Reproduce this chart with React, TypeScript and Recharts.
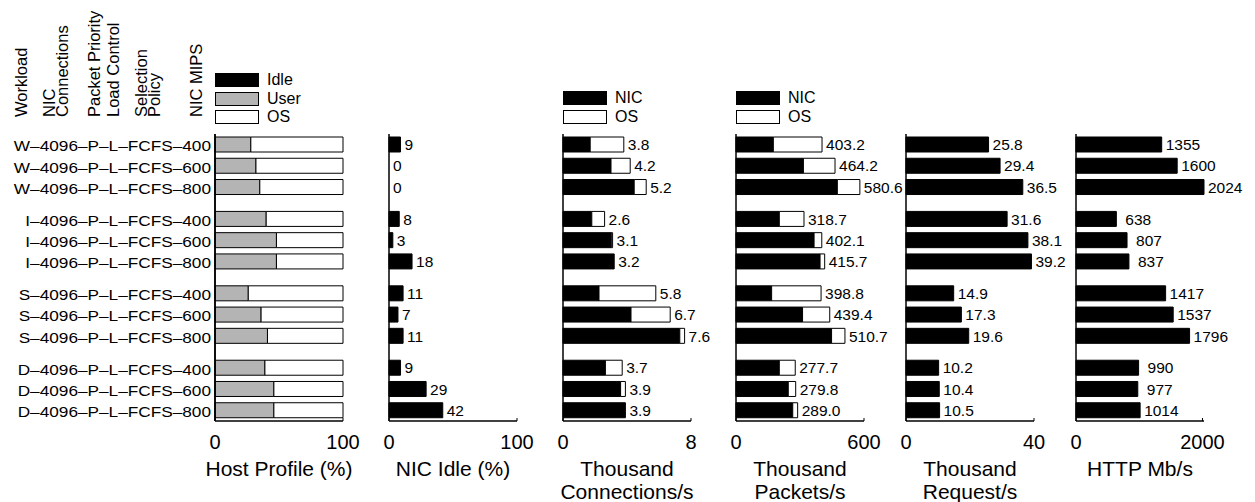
import React from 'react';
import { ComposedChart, Bar, Scatter, XAxis, YAxis, Legend, LabelList, ReferenceLine } from 'recharts';

const FONT = '"Liberation Sans", Arial, Helvetica, sans-serif';

// configuration labels, one per row (grouped by workload, 3 rows each)
const configs = [
  'W–4096–P–L–FCFS–400',
  'W–4096–P–L–FCFS–600',
  'W–4096–P–L–FCFS–800',
  'I–4096–P–L–FCFS–400',
  'I–4096–P–L–FCFS–600',
  'I–4096–P–L–FCFS–800',
  'S–4096–P–L–FCFS–400',
  'S–4096–P–L–FCFS–600',
  'S–4096–P–L–FCFS–800',
  'D–4096–P–L–FCFS–400',
  'D–4096–P–L–FCFS–600',
  'D–4096–P–L–FCFS–800',
];

// host profile (%)
const hostUser = [28, 32, 35, 40, 48, 48, 26, 36, 41, 39, 46, 46];
const hostOS = [72, 68, 65, 60, 52, 52, 74, 64, 59, 61, 54, 54];
const hostIdle = [0, 0, 0, 0, 0, 0, 0, 0, 0, 0, 0, 0];

// NIC idle (%)
const nicIdle = [9, 0, 0, 8, 3, 18, 11, 7, 11, 9, 29, 42];

// thousand connections/s
const connNIC = [1.7, 3.0, 4.45, 1.8, 3.02, 3.2, 2.25, 4.25, 7.3, 2.65, 3.6, 3.9];
const connOS = [2.1, 1.2, 0.75, 0.8, 0.08, 0, 3.55, 2.45, 0.3, 1.05, 0.3, 0];
const connTotal = [3.8, 4.2, 5.2, 2.6, 3.1, 3.2, 5.8, 6.7, 7.6, 3.7, 3.9, 3.9];

// thousand packets/s
const pktNIC = [175, 316, 475, 203, 366, 394, 167, 312, 448, 203, 245, 266];
const pktOS = [228.2, 148.2, 105.6, 115.7, 36.1, 21.7, 231.8, 127.4, 62.7, 74.7, 34.8, 23.0];
const pktTotal = [403.2, 464.2, 580.6, 318.7, 402.1, 415.7, 398.8, 439.4, 510.7, 277.7, 279.8, 289.0];

// thousand requests/s
const reqRate = [25.8, 29.4, 36.5, 31.6, 38.1, 39.2, 14.9, 17.3, 19.6, 10.2, 10.4, 10.5];

// HTTP Mb/s
const httpMbps = [1355, 1600, 2024, 638, 807, 837, 1417, 1537, 1796, 990, 977, 1014];

// rows sit in groups of three with a half-row gap between groups
const data = configs.map((label, i) => ({
  label,
  pos: Math.floor(i / 3) * 3.5 + (i % 3),
  hostUser: hostUser[i],
  hostOS: hostOS[i],
  hostIdle: hostIdle[i],
  nicIdle: nicIdle[i],
  connNIC: connNIC[i],
  connOS: connOS[i],
  connTotal: connTotal[i],
  pktNIC: pktNIC[i],
  pktOS: pktOS[i],
  pktTotal: pktTotal[i],
  reqRate: reqRate[i],
  httpMbps: httpMbps[i],
}));
const positions = data.map((d) => d.pos);

const PLOT_W = 128;
const BLACK = '#000';
const GRAY = '#b4b4b4';
const WHITE = '#fff';

type Seg = { key: string; name: string; fill: string };

const RowTick = (props: any) => {
  const { x, y, payload } = props;
  const row = data.find((d) => d.pos === payload.value);
  return (
    <text
      transform={`translate(${x},${y}) scale(1.23,1)`}
      textAnchor="end"
      dy="0.48em"
      fontSize={14}
      fontFamily={FONT}
      fill="#000"
    >
      {row ? row.label : ''}
    </text>
  );
};

const AxisTitle = (props: any) => {
  const { viewBox, lines } = props;
  const cx = viewBox.x + viewBox.width / 2;
  return (
    <text x={cx} y={viewBox.y + 55} textAnchor="middle" fontSize={21} fontFamily={FONT} fill="#000">
      {lines.map((l: string, i: number) => (
        <tspan key={l} x={cx} dy={i ? 23 : 0}>
          {l}
        </tspan>
      ))}
    </text>
  );
};

// value text placed just right of the point at (value, row)
const ValueLabel = (props: any) => {
  const { viewBox, value, fmt, padShort } = props;
  const vb = viewBox || props;
  const cx = vb.x + (vb.width || 0) / 2;
  const cy = vb.y + (vb.height || 0) / 2;
  const text = fmt ? fmt(value) : String(value);
  const extra = padShort && text.length < 4 ? 5 : 0;
  return (
    <text x={cx + 4 + extra} y={cy} dy="0.36em" fontSize={15.5} fontFamily={FONT} fill="#000">
      {text}
    </text>
  );
};

const NoMark = () => <g />;

const BoxLegend = ({ items }: { items: Seg[] }) => (
  <div style={{ fontFamily: FONT, fontSize: 16, color: '#000' }}>
    {items.map((it) => (
      <div key={it.name} style={{ display: 'flex', alignItems: 'center', height: 18.5 }}>
        <span
          style={{
            display: 'inline-block',
            width: 44,
            height: 14,
            background: it.fill,
            border: '1px solid #000',
            boxSizing: 'border-box',
          }}
        />
        <span style={{ marginLeft: 8, lineHeight: '14px' }}>{it.name}</span>
      </div>
    ))}
  </div>
);

interface PanelProps {
  x0: number;
  padL: number;
  padR: number;
  tickMax: number;
  segs: Seg[];
  title: string[];
  labelKey?: string;
  fmt?: (v: number) => string;
  padShort?: boolean;
  legend?: Seg[];
  legendTop?: number;
  rowLabels?: boolean;
}

function Panel(p: PanelProps) {
  const width = p.padL + PLOT_W + p.padR;
  return (
    <div style={{ position: 'absolute', left: p.x0 - p.padL, top: 0 }}>
      <ComposedChart
        width={width}
        height={502}
        data={data}
        layout="vertical"
        margin={{ top: 134, right: p.padR, bottom: 0, left: p.rowLabels ? 0 : p.padL }}
      >
        <XAxis
          type="number"
          domain={[0, p.tickMax]}
          ticks={[0, p.tickMax]}
          height={81}
          axisLine={{ stroke: BLACK, strokeWidth: 1.5 }}
          tickLine={{ stroke: BLACK }}
          tickSize={-3}
          tickMargin={17}
          tick={{ fontSize: 20, fill: BLACK, fontFamily: FONT }}
          label={<AxisTitle lines={p.title} />}
        />
        <YAxis
          type="number"
          dataKey="pos"
          domain={[-0.5, 13]}
          ticks={positions}
          interval={0}
          width={p.rowLabels ? p.padL : 0}
          tickSize={0}
          tickMargin={4}
          tick={p.rowLabels ? <RowTick /> : false}
          axisLine={{ stroke: BLACK, strokeWidth: 1.5 }}
          tickLine={false}
        />
        <ReferenceLine x={0} stroke={BLACK} strokeWidth={1.5} />
        {p.segs.map((s) => (
          <Bar
            key={s.key}
            dataKey={s.key}
            name={s.name}
            stackId="a"
            fill={s.fill}
            stroke={BLACK}
            strokeWidth={1}
            barSize={15}
            isAnimationActive={false}
          />
        ))}
        {p.labelKey ? (
          <Scatter dataKey={p.labelKey} shape={<NoMark />} legendType="none" isAnimationActive={false}>
            <LabelList dataKey={p.labelKey} content={<ValueLabel fmt={p.fmt} padShort={p.padShort} />} />
          </Scatter>
        ) : null}
        {p.legend ? (
          <Legend
            layout="vertical"
            align="center"
            verticalAlign="middle"
            wrapperStyle={{ left: p.padL, top: p.legendTop, width: 120 }}
            content={<BoxLegend items={p.legend} />}
          />
        ) : null}
      </ComposedChart>
    </div>
  );
}

const headerLines = [
  { text: 'Workload', base: 27 },
  { text: 'NIC', base: 55 },
  { text: 'Connections', base: 68 },
  { text: 'Packet Priority', base: 99.5 },
  { text: 'Load Control', base: 119 },
  { text: 'Selection', base: 147 },
  { text: 'Policy', base: 159.5 },
  { text: 'NIC MIPS', base: 201.5 },
];

const HeaderLabels = () => (
  <svg width={230} height={130} style={{ position: 'absolute', left: 0, top: 0 }}>
    {headerLines.map((h) => (
      <text
        key={h.text}
        transform={`translate(${h.base},117) rotate(-90)`}
        fontSize={16.5}
        fontFamily={FONT}
        fill="#000"
      >
        {h.text}
      </text>
    ))}
  </svg>
);

const hostSegs: Seg[] = [
  { key: 'hostUser', name: 'User', fill: GRAY },
  { key: 'hostOS', name: 'OS', fill: WHITE },
  { key: 'hostIdle', name: 'Idle', fill: BLACK },
];
const hostLegend: Seg[] = [hostSegs[2], hostSegs[0], hostSegs[1]];
const connSegs: Seg[] = [
  { key: 'connNIC', name: 'NIC', fill: BLACK },
  { key: 'connOS', name: 'OS', fill: WHITE },
];
const pktSegs: Seg[] = [
  { key: 'pktNIC', name: 'NIC', fill: BLACK },
  { key: 'pktOS', name: 'OS', fill: WHITE },
];

export default function App() {
  return (
    <div style={{ position: 'absolute', left: 0, top: 0, width: 1255, height: 502, background: '#fff' }}>
      <HeaderLabels />
      <Panel
        x0={215}
        padL={215}
        padR={17}
        tickMax={100}
        segs={hostSegs}
        title={['Host Profile (%)']}
        legend={hostLegend}
        legendTop={70.75}
        rowLabels
      />
      <Panel
        x0={389}
        padL={12}
        padR={40}
        tickMax={100}
        segs={[{ key: 'nicIdle', name: 'Idle', fill: BLACK }]}
        title={['NIC Idle (%)']}
        labelKey="nicIdle"
      />
      <Panel
        x0={563}
        padL={12}
        padR={45}
        tickMax={8}
        segs={connSegs}
        title={['Thousand', 'Connections/s']}
        labelKey="connTotal"
        fmt={(v) => v.toFixed(1)}
        legend={connSegs}
        legendTop={88.75}
      />
      <Panel
        x0={736}
        padL={12}
        padR={45}
        tickMax={600}
        segs={pktSegs}
        title={['Thousand', 'Packets/s']}
        labelKey="pktTotal"
        fmt={(v) => v.toFixed(1)}
        legend={pktSegs}
        legendTop={88.75}
      />
      <Panel
        x0={906}
        padL={12}
        padR={45}
        tickMax={40}
        segs={[{ key: 'reqRate', name: 'Requests', fill: BLACK }]}
        title={['Thousand', 'Request/s']}
        labelKey="reqRate"
        fmt={(v) => v.toFixed(1)}
      />
      <Panel
        x0={1076}
        padL={12}
        padR={51}
        tickMax={2000}
        segs={[{ key: 'httpMbps', name: 'HTTP', fill: BLACK }]}
        title={['HTTP Mb/s']}
        labelKey="httpMbps"
        padShort
      />
    </div>
  );
}
